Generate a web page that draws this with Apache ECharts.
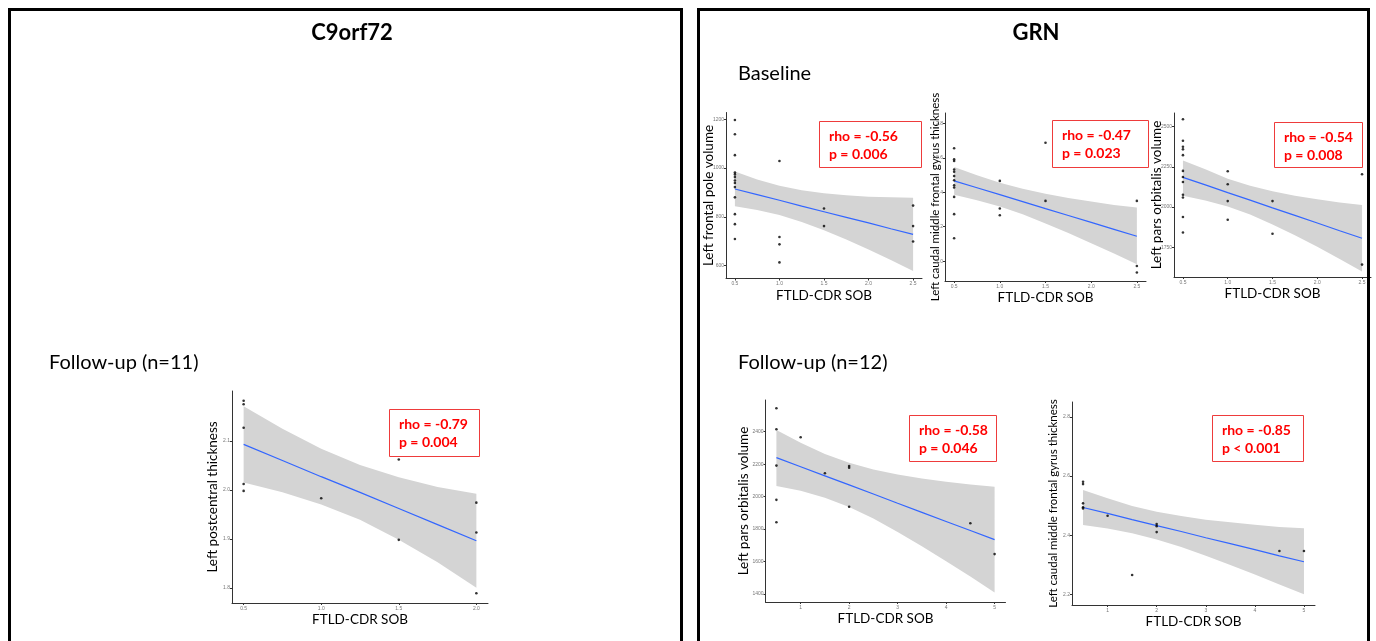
<!DOCTYPE html>
<html>
<head>
<meta charset="utf-8">
<script src="https://cdn.jsdelivr.net/npm/echarts@6/dist/echarts.min.js"></script>
<style>
  html, body { margin: 0; padding: 0; background: #fff; }
  #chart { width: 1376px; height: 641px; }
</style>
</head>
<body>
<div id="chart"></div>
<script>
// C9orf72 follow-up: Left postcentral thickness
const c9X = [0.5, 0.5, 0.5, 0.5, 0.5, 1.0, 1.5, 1.5, 2.0, 2.0, 2.0];
const c9Y = [2.182, 2.175, 2.127, 2.012, 1.998, 1.983, 2.062, 1.898, 1.974, 1.913, 1.789];
const c9BandX = [0.5, 0.75, 1.0, 1.25, 1.5, 1.75, 2.0];
const c9Fit = [2.093, 2.060, 2.027, 1.995, 1.962, 1.929, 1.896];
const c9Lo = [2.015, 1.995, 1.970, 1.939, 1.898, 1.852, 1.800];
const c9Hi = [2.171, 2.125, 2.084, 2.051, 2.026, 2.006, 1.992];

// GRN baseline: Left frontal pole volume
const fpX = [0.5, 0.5, 0.5, 0.5, 0.5, 0.5, 0.5, 0.5, 0.5, 0.5, 0.5, 0.5, 0.5, 1.0, 1.0, 1.0, 1.0, 1.5, 1.5, 2.5, 2.5, 2.5];
const fpY = [1197, 1139, 1053, 982, 974, 963, 949, 939, 922, 880, 811, 770, 709, 1029, 717, 687, 613, 834, 762, 846, 762, 699];
const baseBandX = [0.5, 0.75, 1.0, 1.25, 1.5, 1.75, 2.0, 2.25, 2.5];
const fpFit = [914, 891, 868, 844, 821, 798, 775, 751, 728];
const fpHi = [986, 953, 927, 909, 897, 889, 882, 880, 878];
const fpLo = [843, 828, 808, 779, 745, 707, 666, 623, 578];

// GRN baseline: Left caudal middle frontal gyrus thickness
const cmX = [0.5, 0.5, 0.5, 0.5, 0.5, 0.5, 0.5, 0.5, 0.5, 0.5, 0.5, 0.5, 1.0, 1.0, 1.0, 1.5, 1.5, 2.5, 2.5, 2.5];
const cmY = [2.655, 2.591, 2.581, 2.532, 2.519, 2.494, 2.470, 2.441, 2.428, 2.373, 2.273, 2.133, 2.466, 2.306, 2.267, 2.687, 2.350, 2.350, 1.972, 1.934];
const cmFit = [2.466, 2.426, 2.386, 2.346, 2.305, 2.265, 2.225, 2.185, 2.145];
const cmHi = [2.546, 2.499, 2.455, 2.420, 2.391, 2.367, 2.346, 2.326, 2.312];
const cmLo = [2.386, 2.353, 2.317, 2.272, 2.219, 2.163, 2.104, 2.044, 1.982];

// GRN baseline: Left pars orbitalis volume
const poX = [0.5, 0.5, 0.5, 0.5, 0.5, 0.5, 0.5, 0.5, 0.5, 0.5, 0.5, 0.5, 1.0, 1.0, 1.0, 1.0, 1.5, 1.5, 2.5, 2.5];
const poY = [2546, 2412, 2375, 2359, 2323, 2225, 2187, 2156, 2077, 2059, 1938, 1842, 2223, 2142, 2037, 1921, 2037, 1834, 2204, 1642];
const poFit = [2185, 2138, 2090, 2043, 1995, 1948, 1901, 1853, 1806];
const poHi = [2290, 2235, 2176, 2133, 2098, 2071, 2049, 2029, 2013];
const poLo = [2070, 2041, 2004, 1953, 1892, 1825, 1753, 1677, 1599];

// GRN follow-up (n=12)
const fuX = [0.5, 0.5, 0.5, 0.5, 0.5, 1, 1.5, 2, 2, 2, 4.5, 5];
const fuBandX = [0.5, 1, 1.5, 2, 2.5, 3, 3.5, 4, 4.5, 5];
const fuPoY = [2544, 2415, 2191, 1980, 1842, 2366, 2144, 2189, 2178, 1938, 1836, 1646];
const fuPoFit = [2240, 2184, 2128, 2072, 2016, 1959, 1903, 1847, 1791, 1735];
const fuPoHi = [2410, 2331, 2263, 2208, 2167, 2136, 2112, 2092, 2074, 2060];
const fuPoLo = [2066, 2036, 1993, 1936, 1865, 1782, 1694, 1602, 1508, 1410];
const fuCmY = [2.581, 2.573, 2.508, 2.495, 2.491, 2.466, 2.266, 2.438, 2.431, 2.411, 2.347, 2.347];
const fuCmFit = [2.494, 2.474, 2.453, 2.433, 2.413, 2.392, 2.372, 2.352, 2.331, 2.311];
const fuCmHi = [2.553, 2.525, 2.499, 2.480, 2.465, 2.453, 2.444, 2.436, 2.428, 2.424];
const fuCmLo = [2.435, 2.423, 2.407, 2.386, 2.361, 2.331, 2.300, 2.268, 2.234, 2.201];

// tick labels
const xTicksHalf4 = [0.5, 1.0, 1.5, 2.0];
const xTicksHalf5 = [0.5, 1.0, 1.5, 2.0, 2.5];
const xTicksInt = [1, 2, 3, 4, 5];
const c9YTicks = [1.8, 1.9, 2.0, 2.1];
const fpYTicks = [600, 800, 1000, 1200];
const cmYTicks = [2.0, 2.2, 2.4, 2.6, 2.8];
const poYTicks = [1750, 2000, 2250, 2500];
const fuPoYTicks = [1400, 1600, 1800, 2000, 2200, 2400];
const fuCmYTicks = [2.2, 2.4, 2.6, 2.8];

const FONT = 'Lato, "Open Sans", sans-serif';

const panels = [
  { grid: [232, 391, 256, 212], xr: [0.425, 2.075], yr: [1.769, 2.202], xt: xTicksHalf4, yt: c9YTicks, xd: 1, yd: 1,
    yName: 'Left postcentral thickness', yFs: 13.5, yGap: 12, px: c9X, py: c9Y, bx: c9BandX, fit: c9Fit, lo: c9Lo, hi: c9Hi },
  { grid: [726, 112.5, 196, 166], xr: [0.4, 2.6], yr: [547, 1228], xt: xTicksHalf5, yt: fpYTicks, xd: 1, yd: 0,
    yName: 'Left frontal pole volume', yFs: 13.5, yGap: 10, px: fpX, py: fpY, bx: baseBandX, fit: fpFit, lo: fpLo, hi: fpHi },
  { grid: [945, 113, 201, 168], xr: [0.4, 2.6], yr: [1.885, 2.86], xt: xTicksHalf5, yt: cmYTicks, xd: 1, yd: 1,
    yName: 'Left caudal middle frontal gyrus thickness', yFs: 11.5, yGap: 4, px: cmX, py: cmY, bx: baseBandX, fit: cmFit, lo: cmLo, hi: cmHi },
  { grid: [1174, 113, 197, 164], xr: [0.4, 2.6], yr: [1565, 2585], xt: xTicksHalf5, yt: poYTicks, xd: 1, yd: 0,
    yName: 'Left pars orbitalis volume', yFs: 13.5, yGap: 10, px: poX, py: poY, bx: baseBandX, fit: poFit, lo: poLo, hi: poHi },
  { grid: [765.5, 400, 240, 202], xr: [0.275, 5.225], yr: [1351, 2595], xt: xTicksInt, yt: fuPoYTicks, xd: 0, yd: 0,
    yName: 'Left pars orbitalis volume', yFs: 13.5, yGap: 15, px: fuX, py: fuPoY, bx: fuBandX, fit: fuPoFit, lo: fuPoLo, hi: fuPoHi },
  { grid: [1072, 402, 243, 203], xr: [0.275, 5.225], yr: [2.165, 2.85], xt: xTicksInt, yt: fuCmYTicks, xd: 0, yd: 1,
    yName: 'Left caudal middle frontal gyrus thickness', yFs: 11.5, yGap: 13, px: fuX, py: fuCmY, bx: fuBandX, fit: fuCmFit, lo: fuCmLo, hi: fuCmHi }
];

// rho / p boxes: [x, y, w, h, rho, p]
const statBoxes = [
  [389, 409, 90, 47, 'rho = -0.79', 'p = 0.004'],
  [819, 121, 102, 46, 'rho = -0.56', 'p = 0.006'],
  [1052, 120, 96, 47, 'rho = -0.47', 'p = 0.023'],
  [1274, 122, 88, 45, 'rho = -0.54', 'p = 0.008'],
  [909, 415, 87, 46, 'rho = -0.58', 'p = 0.046'],
  [1212, 415, 91, 46, 'rho = -0.85', 'p < 0.001']
];

const grids = [], xAxes = [], yAxes = [], series = [];

panels.forEach((p, i) => {
  grids.push({ left: p.grid[0], top: p.grid[1], width: p.grid[2], height: p.grid[3] });
  xAxes.push({
    type: 'value', gridIndex: i, min: p.xr[0], max: p.xr[1],
    name: 'FTLD-CDR SOB', nameLocation: 'middle', nameGap: 10, nameMoveOverlap: false,
    nameTextStyle: { fontFamily: FONT, fontSize: 13.5, color: '#000' },
    axisLine: { onZero: false, lineStyle: { color: '#333', width: 1 } },
    axisTick: { show: true, length: 2, customValues: p.xt, lineStyle: { color: '#333' } },
    axisLabel: { customValues: p.xt, fontSize: 5, color: '#777', margin: 3,
      formatter: v => v.toFixed(p.xd) },
    splitLine: { show: false }
  });
  yAxes.push({
    type: 'value', gridIndex: i, min: p.yr[0], max: p.yr[1],
    name: p.yName, nameLocation: 'middle', nameGap: p.yGap, nameMoveOverlap: false,
    nameTextStyle: { fontFamily: FONT, fontSize: p.yFs, color: '#000' },
    axisLine: { show: true, onZero: false, lineStyle: { color: '#333', width: 1 } },
    axisTick: { show: true, length: 2, customValues: p.yt, lineStyle: { color: '#333' } },
    axisLabel: { customValues: p.yt, fontSize: 5, color: '#777', margin: 2,
      formatter: v => v.toFixed(p.yd) },
    splitLine: { show: false }
  });

  // confidence band
  series.push({
    type: 'custom', xAxisIndex: i, yAxisIndex: i, silent: true, z: 1,
    data: p.bx.map((x, k) => [x, p.lo[k], p.hi[k]]),
    renderItem: function (params, api) {
      if (params.dataIndex !== 0) return;
      const pts = [];
      p.bx.forEach((x, k) => pts.push(api.coord([x, p.hi[k]])));
      for (let k = p.bx.length - 1; k >= 0; k--) pts.push(api.coord([p.bx[k], p.lo[k]]));
      return { type: 'polygon', shape: { points: pts }, style: { fill: '#d4d4d4' } };
    }
  });
  // regression line
  series.push({
    type: 'line', xAxisIndex: i, yAxisIndex: i, silent: true, z: 3,
    data: p.bx.map((x, k) => [x, p.fit[k]]),
    symbol: 'none', lineStyle: { color: '#3366ff', width: 1.2 }
  });
  // points
  series.push({
    type: 'scatter', xAxisIndex: i, yAxisIndex: i, silent: true, z: 4,
    data: p.px.map((x, k) => [x, p.py[k]]),
    symbolSize: 2.6, itemStyle: { color: '#000' }
  });
});

const graphics = [
  { type: 'rect', z: 50, shape: { x: 9.5, y: 9.5, width: 672, height: 650 }, style: { fill: 'none', stroke: '#000', lineWidth: 3 } },
  { type: 'rect', z: 50, shape: { x: 698.5, y: 9.5, width: 670, height: 650 }, style: { fill: 'none', stroke: '#000', lineWidth: 3 } },
  { type: 'text', z: 50, x: 352, y: 33, style: { text: 'C9orf72', font: 'bold 22px ' + FONT, fill: '#000', align: 'center', verticalAlign: 'middle', textAlign: 'center', textVerticalAlign: 'middle' } },
  { type: 'text', z: 50, x: 1036, y: 33, style: { text: 'GRN', font: 'bold 22px ' + FONT, fill: '#000', align: 'center', verticalAlign: 'middle', textAlign: 'center', textVerticalAlign: 'middle' } },
  { type: 'text', z: 50, x: 738, y: 74, style: { text: 'Baseline', font: '20px ' + FONT, fill: '#000', align: 'left', verticalAlign: 'middle', textAlign: 'left', textVerticalAlign: 'middle' } },
  { type: 'text', z: 50, x: 49, y: 363, style: { text: 'Follow-up (n=11)', font: '20px ' + FONT, fill: '#000', align: 'left', verticalAlign: 'middle', textAlign: 'left', textVerticalAlign: 'middle' } },
  { type: 'text', z: 50, x: 738, y: 363, style: { text: 'Follow-up (n=12)', font: '20px ' + FONT, fill: '#000', align: 'left', verticalAlign: 'middle', textAlign: 'left', textVerticalAlign: 'middle' } }
];

statBoxes.forEach(b => {
  graphics.push({ type: 'rect', z: 60, shape: { x: b[0] + 0.5, y: b[1] + 0.5, width: b[2], height: b[3] },
    style: { fill: 'none', stroke: '#ee3b3b', lineWidth: 1 } });
  graphics.push({ type: 'text', z: 60, x: b[0] + 10, y: b[1] + 15, style: { text: b[4], font: 'bold 14px ' + FONT, fill: '#ff0000', align: 'left', verticalAlign: 'middle', textAlign: 'left', textVerticalAlign: 'middle' } });
  graphics.push({ type: 'text', z: 60, x: b[0] + 10, y: b[1] + 33, style: { text: b[5], font: 'bold 14px ' + FONT, fill: '#ff0000', align: 'left', verticalAlign: 'middle', textAlign: 'left', textVerticalAlign: 'middle' } });
});

const chart = echarts.init(document.getElementById('chart'));
chart.setOption({
  backgroundColor: '#fff',
  animation: false,
  grid: grids,
  xAxis: xAxes,
  yAxis: yAxes,
  series: series,
  graphic: graphics
});
</script>
</body>
</html>
